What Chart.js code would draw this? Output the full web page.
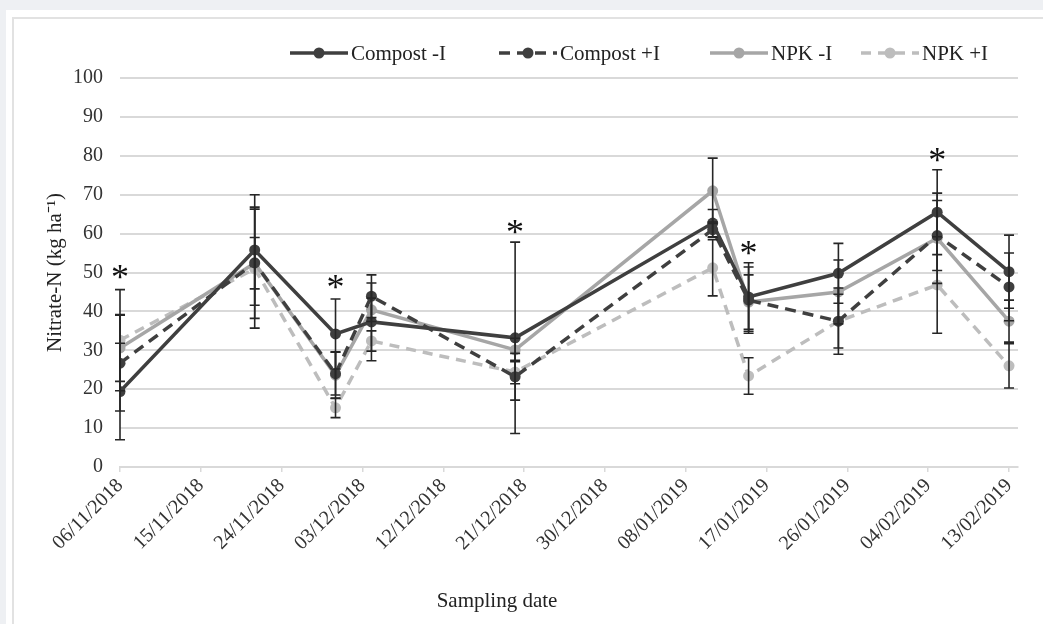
<!DOCTYPE html>
<html>
<head>
<meta charset="utf-8">
<script src="https://cdn.jsdelivr.net/npm/chart.js@4.4.1/dist/chart.umd.min.js"></script>
<style>
  html, body { margin: 0; padding: 0; background: #eef0f3; width: 1043px; height: 624px; overflow: hidden; }
  .outer { position: absolute; left: 6px; top: 10px; width: 1100px; height: 700px; background: #fff; }
  .inner { position: absolute; left: 12px; top: 17px; width: 1100px; height: 700px; border: 2px solid #e2e2e2; box-sizing: border-box; }
  canvas { position: absolute; left: 0; top: 0; }
</style>
</head>
<body>
<div class="outer"></div>
<div class="inner"></div>
<canvas id="nitrate-chart" width="1043" height="624"></canvas>
<script>
// sampling dates
const sampleDates = ['2018-11-06', '2018-11-21', '2018-11-30', '2018-12-04', '2018-12-20',
                     '2019-01-11', '2019-01-15', '2019-01-25', '2019-02-05', '2019-02-13'];

// nitrate-N means (kg ha-1)
const compostNoIrr = [19.4, 55.8, 34.2, 37.3, 33.2, 62.7, 43.7, 49.8, 65.5, 50.2];
const compostIrr   = [26.7, 52.5, 24.0, 43.9, 23.2, 61.0, 42.9, 37.5, 59.5, 46.3];
const npkNoIrr     = [30.6, 52.4, 23.6, 40.4, 30.1, 71.0, 42.4, 45.0, 58.8, 37.5];
const npkIrr       = [32.6, 51.0, 15.2, 32.4, 24.4, 51.2, 23.4, 37.5, 46.8, 26.0];

// standard deviations
const compostNoIrrSd = [12.4, 14.2, 9.0, 10.0, 24.6, 3.5, 8.8, 7.7, 10.9, 9.4];
const compostIrrSd   = [12.3, 14.3, 5.5, 5.5, 6.0, 2.0, 8.5, 8.5, 9.0, 8.7];
const npkNoIrrSd     = [8.6, 6.6, 6.0, 3.0, 3.0, 8.4, 7.0, 8.2, 11.6, 5.4];
const npkIrrSd       = [13.0, 15.3, 2.5, 2.6, 3.0, 7.2, 4.7, 6.9, 12.4, 5.7];

// significance markers
const starDates  = ['2018-11-06', '2018-11-30', '2018-12-20', '2019-01-15', '2019-02-05'];
const starValues = [50.2, 47.6, 61.8, 56.3, 80.2];

// axis ticks
const xTickDates = ['06/11/2018', '15/11/2018', '24/11/2018', '03/12/2018', '12/12/2018', '21/12/2018',
                    '30/12/2018', '08/01/2019', '17/01/2019', '26/01/2019', '04/02/2019', '13/02/2019'];
const yTicks = [0, 10, 20, 30, 40, 50, 60, 70, 80, 90, 100];

const DAY = 86400000;
const start = Date.UTC(2018, 10, 6);
const toDay = s => {
  const [y, m, d] = s.split('-').map(Number);
  return Math.round((Date.UTC(y, m - 1, d) - start) / DAY);
};
const tickDay = s => {
  const [d, m, y] = s.split('/').map(Number);
  return Math.round((Date.UTC(y, m - 1, d) - start) / DAY);
};
const xTickValues = xTickDates.map(tickDay);
const days = sampleDates.map(toDay);
const pts = arr => arr.map((v, i) => ({ x: days[i], y: v }));

const serif = '"Liberation Serif", "Times New Roman", serif';
const dark = '#3f3f3f';
const light = '#a6a6a6';
const lighter = '#bdbdbd';

const seriesSd = [compostNoIrrSd, compostIrrSd, npkNoIrrSd, npkIrrSd];

// error bars + asterisks
const errorBars = {
  id: 'errorBars',
  afterDatasetsDraw(chart) {
    const { ctx, scales: { x, y } } = chart;
    ctx.save();
    ctx.strokeStyle = '#262626';
    ctx.lineWidth = 1.6;
    chart.data.datasets.forEach((ds, di) => {
      const sd = seriesSd[di];
      ds.data.forEach((p, i) => {
        const px = x.getPixelForValue(p.x);
        const top = y.getPixelForValue(p.y + sd[i]);
        const bot = y.getPixelForValue(p.y - sd[i]);
        ctx.beginPath();
        ctx.moveTo(px, top); ctx.lineTo(px, bot);
        ctx.moveTo(px - 5, top); ctx.lineTo(px + 5, top);
        ctx.moveTo(px - 5, bot); ctx.lineTo(px + 5, bot);
        ctx.stroke();
      });
    });
    ctx.fillStyle = '#111';
    ctx.font = '36px ' + serif;
    ctx.textAlign = 'center';
    ctx.textBaseline = 'middle';
    starDates.forEach((d, i) => {
      ctx.fillText('*', x.getPixelForValue(toDay(d)), y.getPixelForValue(starValues[i]) + 8);
    });
    ctx.restore();
  }
};

// legend drawn Excel-style: line sample with marker
const legendLine = {
  id: 'legendLine',
  afterDraw(chart) {
    const { ctx } = chart;
    const starts = [290, 499, 710, 861];
    const yy = 53;
    ctx.save();
    ctx.font = '21px ' + serif;
    ctx.textBaseline = 'middle';
    ctx.fillStyle = '#222';
    chart.data.datasets.forEach((ds, i) => {
      const x0 = starts[i];
      ctx.strokeStyle = ds.borderColor;
      ctx.lineWidth = ds.borderWidth;
      ctx.setLineDash(ds.borderDash || []);
      ctx.beginPath();
      ctx.moveTo(x0, yy); ctx.lineTo(x0 + 58, yy);
      ctx.stroke();
      ctx.setLineDash([]);
      ctx.fillStyle = ds.pointBackgroundColor;
      ctx.beginPath();
      ctx.arc(x0 + 29, yy, 5.5, 0, Math.PI * 2);
      ctx.fill();
      ctx.fillStyle = '#222';
      ctx.fillText(ds.label, x0 + 61, yy + 1);
    });
    // x axis title
    ctx.textAlign = 'center';
    ctx.font = '21px ' + serif;
    ctx.fillText('Sampling date', 497, 601);
    ctx.restore();
  }
};

const mkSet = (label, data, color, dash) => ({
  label,
  data: pts(data),
  borderColor: color,
  backgroundColor: color,
  pointBackgroundColor: color,
  pointBorderColor: color,
  pointBorderWidth: 0,
  borderWidth: 3.5,
  borderDash: dash,
  pointRadius: 5.5,
  pointHoverRadius: 5.5,
  tension: 0
});

new Chart(document.getElementById('nitrate-chart'), {
  type: 'line',
  data: {
    datasets: [
      mkSet('Compost -I', compostNoIrr, dark, []),
      mkSet('Compost +I', compostIrr, dark, [11, 7]),
      mkSet('NPK -I', npkNoIrr, light, []),
      mkSet('NPK +I', npkIrr, lighter, [10, 7])
    ]
  },
  options: {
    responsive: false,
    animation: false,
    layout: { padding: { top: 78, right: 25, left: 0, bottom: 0 } },
    plugins: { legend: { display: false }, tooltip: { enabled: false } },
    scales: {
      x: {
        type: 'linear',
        min: 0,
        max: 100,
        afterBuildTicks: s => { s.ticks = xTickValues.map(v => ({ value: v })); },
        afterFit: s => { s.height = 157; },
        grid: { drawOnChartArea: false, drawTicks: true, tickLength: 5, color: '#d9d9d9', lineWidth: 1.5 },
        border: { display: true, color: '#d9d9d9', width: 2 },
        ticks: {
          autoSkip: false,
          minRotation: 45,
          maxRotation: 45,
          padding: 2,
          color: '#333',
          font: { family: serif, size: 20 },
          callback: v => xTickDates[xTickValues.indexOf(v)]
        }
      },
      y: {
        min: 0,
        max: 100,
        afterBuildTicks: s => { s.ticks = yTicks.map(v => ({ value: v })); },
        afterFit: s => { s.width = 120; },
        grid: { color: '#d9d9d9', lineWidth: 2, drawTicks: false },
        border: { display: false },
        ticks: { padding: 17, color: '#333', font: { family: serif, size: 20 } },
        title: {
          display: true,
          text: 'Nitrate-N (kg ha\u207B\u00B9)',
          color: '#222',
          font: { family: serif, size: 21 },
          padding: { top: 43, bottom: 0 }
        }
      }
    }
  },
  plugins: [errorBars, legendLine]
});
</script>
</body>
</html>
